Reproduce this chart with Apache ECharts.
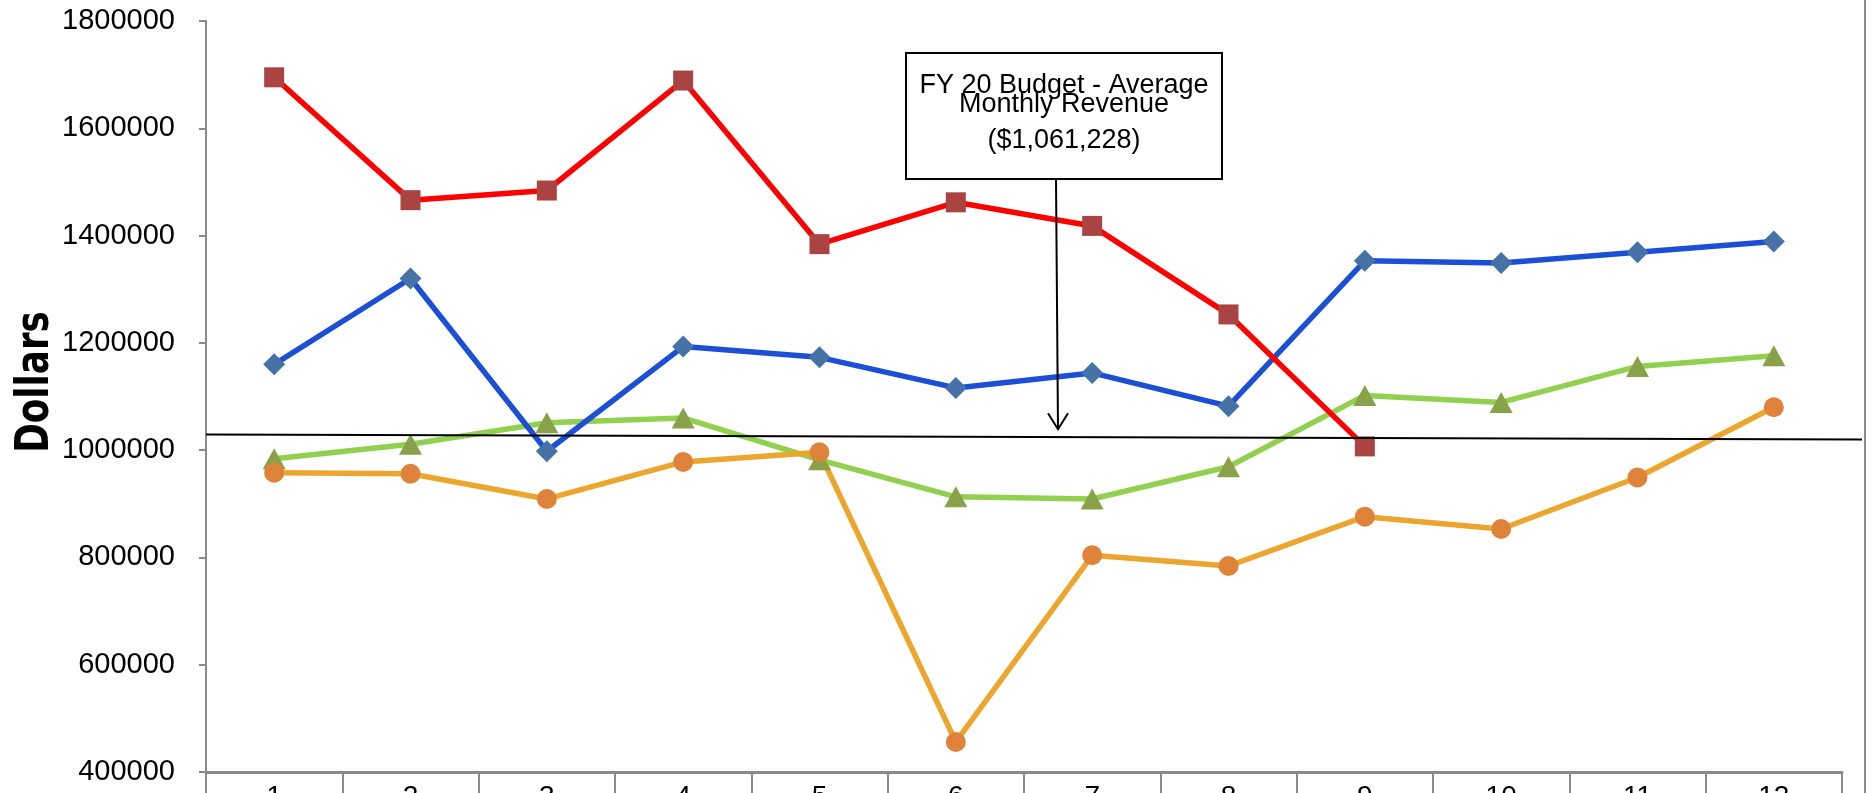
<!DOCTYPE html>
<html>
<head>
<meta charset="utf-8">
<script src="https://cdn.jsdelivr.net/npm/echarts@6/dist/echarts.min.js"></script>
<style>
  html, body { margin: 0; padding: 0; background: #ffffff; }
  #chart { width: 1868px; height: 793px; }
</style>
</head>
<body>
<div id="chart"></div>
<script>
// Months of the fiscal year
const months = ['1', '2', '3', '4', '5', '6', '7', '8', '9', '10', '11', '12'];

// Monthly revenue by year (dollars)
const revenueRed = [1695000, 1466000, 1484000, 1689000, 1384000, 1462000, 1418000, 1253000, 1007000, null, null, null];
const revenueBlue = [1160000, 1320000, 998000, 1193000, 1173000, 1116000, 1144000, 1082000, 1353000, 1349000, 1369000, 1389000];
const revenueGreen = [984000, 1011000, 1051000, 1060000, 982000, 913000, 909000, 969000, 1102000, 1089000, 1156000, 1176000];
const revenueOrange = [958000, 956000, 909000, 978000, 996000, 456000, 804000, 784000, 876000, 853000, 949000, 1080000];

// Value axis range
const yMin = 400000;
const yMax = 1800000;
const yStep = 200000;

// Budget reference line (left end, right end) and the callout
const budgetLineEnds = [1029000, 1020000];
const budgetArrowTip = 1039000;
const calloutLines = ['FY 20 Budget - Average', 'Monthly Revenue', '($1,061,228)'];
const axisTitle = 'Dollars';

const FONT = '"Liberation Sans", Arial, sans-serif';
const GRID_LEFT = 206;
const GRID_RIGHT = 26;

const chart = echarts.init(document.getElementById('chart'), null, { renderer: 'canvas' });

function lineSeries(name, data, lineColor, markColor, symbol, size) {
  return {
    name: name,
    type: 'line',
    data: data,
    symbol: symbol,
    symbolSize: size,
    showAllSymbol: true,
    lineStyle: { color: lineColor, width: 5.5 },
    itemStyle: { color: markColor, borderWidth: 0 },
    emphasis: { disabled: true },
    animation: false
  };
}

chart.setOption({
  backgroundColor: '#ffffff',
  animation: false,
  grid: { left: GRID_LEFT, right: GRID_RIGHT, top: 21, bottom: 21, containLabel: false, outerBoundsMode: 'none' },
  xAxis: {
    type: 'category',
    data: months,
    boundaryGap: true,
    axisLine: { show: true, lineStyle: { color: '#8a8a8a', width: 3 } },
    axisTick: { show: true, alignWithLabel: false, length: 40, lineStyle: { color: '#8a8a8a', width: 2 } },
    axisLabel: { color: '#000000', fontSize: 28, fontFamily: FONT, margin: 11 },
    splitLine: { show: false }
  },
  yAxis: {
    type: 'value',
    min: yMin,
    max: yMax,
    interval: yStep,
    axisLine: { show: true, lineStyle: { color: '#8a8a8a', width: 2 } },
    axisTick: { show: true, length: 7, lineStyle: { color: '#8a8a8a', width: 2 } },
    axisLabel: { color: '#000000', fontSize: 29, fontFamily: FONT, margin: 31, formatter: function (v) { return String(v); } },
    splitLine: { show: false }
  },
  series: [
    lineSeries('Green', revenueGreen, '#92d050', '#89a24a', 'triangle', [23, 21]),
    lineSeries('Orange', revenueOrange, '#eda62d', '#e0833a', 'circle', 20),
    lineSeries('Blue', revenueBlue, '#1b4fd6', '#4572a7', 'diamond', [22, 22]),
    lineSeries('Red', revenueRed, '#ff0000', '#aa4442', 'rect', 20)
  ]
});

// Annotation layer: budget line, callout box, arrow and axis title
const yLeft = chart.convertToPixel({ yAxisIndex: 0 }, budgetLineEnds[0]);
const yRight = chart.convertToPixel({ yAxisIndex: 0 }, budgetLineEnds[1]);
const yTip = chart.convertToPixel({ yAxisIndex: 0 }, budgetArrowTip);

const boxX = 906, boxY = 53, boxW = 316, boxH = 126;
const boxCx = boxX + boxW / 2;
const arrowTopX = 1056, arrowTipX = 1058;

chart.setOption({
  graphic: [
    {
      type: 'line',
      shape: { x1: GRID_LEFT, y1: yLeft, x2: 1862, y2: yRight },
      style: { stroke: '#000000', lineWidth: 2 },
      z: 10
    },
    {
      type: 'line',
      shape: { x1: 1865, y1: 0, x2: 1865, y2: 793 },
      style: { stroke: '#8a8a8a', lineWidth: 2 },
      z: 10
    },
    {
      type: 'rect',
      shape: { x: boxX, y: boxY, width: boxW, height: boxH },
      style: { fill: '#ffffff', stroke: '#000000', lineWidth: 2 },
      z: 20
    },
    {
      type: 'text', x: boxCx, y: 86, z: 21,
      style: { text: calloutLines[0], fill: '#000000', font: '27px ' + FONT, textAlign: 'center', textVerticalAlign: 'middle' }
    },
    {
      type: 'text', x: boxCx, y: 105, z: 21,
      style: { text: calloutLines[1], fill: '#000000', font: '27px ' + FONT, textAlign: 'center', textVerticalAlign: 'middle' }
    },
    {
      type: 'text', x: boxCx, y: 141, z: 21,
      style: { text: calloutLines[2], fill: '#000000', font: '27px ' + FONT, textAlign: 'center', textVerticalAlign: 'middle' }
    },
    {
      type: 'line',
      shape: { x1: arrowTopX, y1: boxY + boxH, x2: arrowTipX, y2: yTip },
      style: { stroke: '#000000', lineWidth: 2 },
      z: 20
    },
    {
      type: 'polyline',
      shape: { points: [[arrowTipX - 10, yTip - 16], [arrowTipX, yTip], [arrowTipX + 10, yTip - 16]] },
      style: { stroke: '#000000', lineWidth: 2, fill: null },
      z: 20
    },
    {
      type: 'text', x: 36, y: 382, rotation: Math.PI / 2, scaleX: 0.76, z: 21,
      style: { text: axisTitle, fill: '#000000', font: 'bold 47px "DejaVu Sans", sans-serif', textAlign: 'center', textVerticalAlign: 'middle' }
    }
  ]
});
</script>
</body>
</html>
